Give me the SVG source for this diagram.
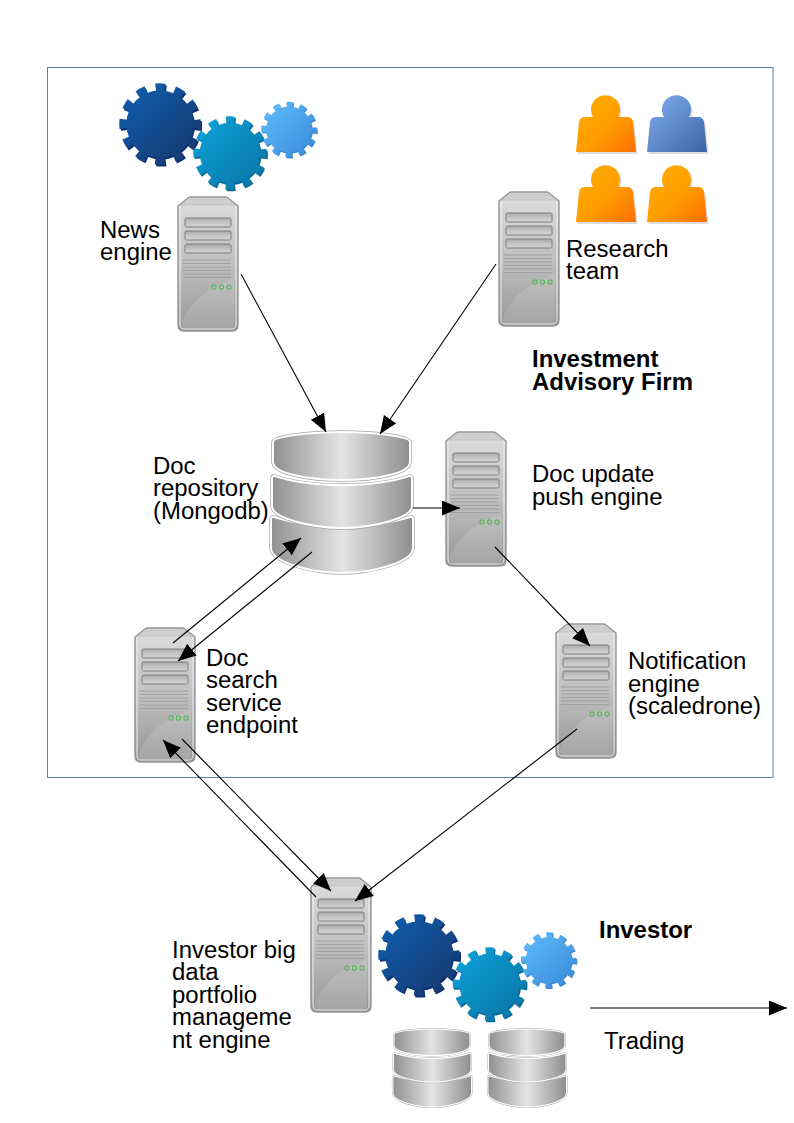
<svg xmlns="http://www.w3.org/2000/svg" width="794" height="1123" viewBox="0 0 794 1123">
<style>
text{font-family:"Liberation Sans",Arial,sans-serif;font-size:23.95px;fill:#000}
.b{font-weight:bold}
.c{fill:none;stroke:#000;stroke-width:1.1}
.a{marker-end:url(#arr)}
.bar{fill:url(#barG);stroke:#7c7c7c;stroke-width:1}
.vent{stroke:#a0a0a0;stroke-width:1}
.led{fill:none;stroke:#5cb85c;stroke-width:1.2}
.diskO{fill:none;stroke:#a4a4a4;stroke-width:3.4}
.disk{fill:url(#diskG);stroke:#fff;stroke-width:2}
</style>
<defs>
<marker id="arr" markerUnits="userSpaceOnUse" markerWidth="20" markerHeight="16" refX="18" refY="7.5" orient="auto"><path d="M0 0L18 7.5L0 15z" fill="#000"/></marker>
<linearGradient id="srvG" x1="0" y1="0" x2="0" y2="1"><stop offset="0" stop-color="#dedede"/><stop offset=".5" stop-color="#c0c0c0"/><stop offset="1" stop-color="#969696"/></linearGradient>
<linearGradient id="barG" x1="0" y1="0" x2="0" y2="1"><stop offset="0" stop-color="#a9a9a9"/><stop offset=".5" stop-color="#c4c4c4"/><stop offset="1" stop-color="#d4d4d4"/></linearGradient>
<linearGradient id="diskG" x1="0" y1="0" x2="1" y2="0"><stop offset="0" stop-color="#909090"/><stop offset=".5" stop-color="#e4e4e4"/><stop offset="1" stop-color="#8e8e8e"/></linearGradient>
<linearGradient id="g1" gradientUnits="userSpaceOnUse" x1="-70" y1="-70" x2="70" y2="70"><stop offset="0" stop-color="#0f5cad"/><stop offset="1" stop-color="#163a70"/></linearGradient>
<linearGradient id="g2" gradientUnits="userSpaceOnUse" x1="-70" y1="-70" x2="70" y2="70"><stop offset="0" stop-color="#0aa0d6"/><stop offset="1" stop-color="#0a76a8"/></linearGradient>
<linearGradient id="g3" gradientUnits="userSpaceOnUse" x1="-70" y1="-70" x2="70" y2="70"><stop offset="0" stop-color="#5bb8f8"/><stop offset="1" stop-color="#3c8fdc"/></linearGradient>
<linearGradient id="oG" x1="0" y1="0" x2="1" y2="1"><stop offset="0" stop-color="#ffb000"/><stop offset=".55" stop-color="#ff9c00"/><stop offset="1" stop-color="#ff6f00"/></linearGradient>
<linearGradient id="bG" x1="0" y1="0" x2="1" y2="1"><stop offset="0" stop-color="#82b0f0"/><stop offset="1" stop-color="#3c64a6"/></linearGradient>
<g id="gearShape"><circle r="74" stroke="none"/><circle r="80" fill="none" stroke-width="19" stroke-dasharray="20.500 21.390" stroke-dashoffset="10.250"/></g>
<g id="server">
<path d="M0 9L10 1Q11 0 13 0H47Q49 0 50 1L60 9V128Q60 134 54 134H6Q0 134 0 128z" fill="url(#srvG)" stroke="#959595" stroke-width="1.400"/>
<path d="M2 9V127Q2 132 6.500 132H53.500Q58 132 58 127V9" fill="none" stroke="#eee" stroke-width="1"/>
<path d="M3 8L12 2H48L57 8z" fill="#cfcfcf" stroke="#bdbdbd" stroke-width=".6"/>
<path d="M4 125C12 105 30 90 56 82V128Q56 131 52 131H7Q4 131 4 128z" fill="#fff" opacity=".13"/>
<rect class="bar" x="7" y="21" width="46" height="9" rx="1.500"/><rect class="bar" x="7" y="34" width="46" height="9" rx="1.500"/><rect class="bar" x="7" y="47" width="46" height="9" rx="1.500"/>
<path class="vent" d="M5 63H53M5 66.500H53M5 70H53M5 73.500H53M5 77H53M5 80.500H53"/>
<circle class="led" cx="36" cy="90" r="2.100"/><circle class="led" cx="43.500" cy="90" r="2.100"/><circle class="led" cx="51" cy="90" r="2.100"/>
</g>
<path id="d3" d="M-2 88Q-2 84 1 85C20 91 45 95 69 95C93 95 118 91 137 85Q140 84 140 88V116C140 130 100 141 69 141C38 141 -2 130 -2 116z"/>
<path id="d2" d="M-1 47Q-1 43 2 44C20 50 45 53 69 53C93 53 118 50 136 44Q139 43 139 47V74C139 86 100 96 69 96C38 96 -1 86 -1 74z"/>
<path id="d1" d="M0 10C0 4 40 0 69 0C98 0 137 4 137 10V30C137 42 100 48 69 48C38 48 0 42 0 30z"/>
<g id="db">
<use href="#d3" class="diskO"/><use href="#d3" class="disk"/>
<use href="#d2" class="diskO"/><use href="#d2" class="disk"/>
<use href="#d1" class="diskO"/><use href="#d1" class="disk"/>
</g>
<path id="person" d="M0 58L3 28Q4 23 9 23H17A14.500 14.500 0 1 1 42 23H51Q56 23 57 28L60 58z"/>
</defs>
<rect width="794" height="1123" fill="#fff"/>
<rect x="47.500" y="67.500" width="725.500" height="710" fill="none" stroke="#5a82b4" stroke-width="1"/>

<g id="gears-top">
<g transform="translate(160 124) scale(.455)"><use href="#gearShape" fill="#0d2f73" stroke="#0d2f73" transform="translate(3 4)"/><use href="#gearShape" fill="url(#g1)" stroke="url(#g1)"/></g>
<g transform="translate(230 153) scale(.41)"><use href="#gearShape" fill="#0a6a96" stroke="#0a6a96" transform="translate(3 4)"/><use href="#gearShape" fill="url(#g2)" stroke="url(#g2)"/></g>
<g transform="translate(289 129.500) scale(.31)"><use href="#gearShape" fill="#3a86cc" stroke="#3a86cc" transform="translate(3 4)"/><use href="#gearShape" fill="url(#g3)" stroke="url(#g3)"/></g>
</g>
<g id="team">
<g transform="translate(576 94)"><use href="#person" fill="#dcdcdc" transform="translate(1.500 2)"/><use href="#person" fill="url(#oG)"/></g>
<g transform="translate(647 94)"><use href="#person" fill="#dcdcdc" transform="translate(1.500 2)"/><use href="#person" fill="url(#bG)"/></g>
<g transform="translate(576 164)"><use href="#person" fill="#dcdcdc" transform="translate(1.500 2)"/><use href="#person" fill="url(#oG)"/></g>
<g transform="translate(647 164)"><use href="#person" fill="#dcdcdc" transform="translate(1.500 2)"/><use href="#person" fill="url(#oG)"/></g>
</g>
<g id="news-engine"><use href="#server" x="178" y="197"/><text x="100" y="238">News</text><text x="100" y="260">engine</text></g>
<g id="research-team"><use href="#server" x="499" y="192"/><text x="566" y="257">Research</text><text x="566" y="279">team</text></g>
<g id="firm-label"><text class="b" x="532" y="367">Investment</text><text class="b" x="532" y="390">Advisory Firm</text></g>
<g id="doc-repository"><use href="#db" transform="translate(273 432)"/><text x="153" y="474">Doc</text><text x="153" y="496">repository</text><text x="153" y="519">(Mongodb)</text></g>
<g id="doc-update"><use href="#server" x="446" y="432"/><text x="532" y="482">Doc update</text><text x="532" y="505">push engine</text></g>
<g id="doc-search"><use href="#server" x="135" y="628"/><text x="206" y="666">Doc</text><text x="206" y="688">search</text><text x="206" y="711">service</text><text x="206" y="733">endpoint</text></g>
<g id="notification"><use href="#server" x="556" y="624"/><text x="628" y="669">Notification</text><text x="628" y="692">engine</text><text x="628" y="714">(scaledrone)</text></g>
<g id="investor-engine"><use href="#server" x="311" y="878"/><text x="172" y="958">Investor big</text><text x="172" y="980">data</text><text x="172" y="1003">portfolio</text><text x="172" y="1025">manageme</text><text x="172" y="1048">nt engine</text></g>
<g id="gears-investor">
<g transform="translate(419 955) scale(.455)"><use href="#gearShape" fill="#0d2f73" stroke="#0d2f73" transform="translate(3 4)"/><use href="#gearShape" fill="url(#g1)" stroke="url(#g1)"/></g>
<g transform="translate(489.500 984) scale(.41)"><use href="#gearShape" fill="#0a6a96" stroke="#0a6a96" transform="translate(3 4)"/><use href="#gearShape" fill="url(#g2)" stroke="url(#g2)"/></g>
<g transform="translate(548.700 960) scale(.31)"><use href="#gearShape" fill="#3a86cc" stroke="#3a86cc" transform="translate(3 4)"/><use href="#gearShape" fill="url(#g3)" stroke="url(#g3)"/></g>
</g>
<g id="investor-dbs">
<use href="#db" transform="translate(394 1029) scale(.554)"/>
<use href="#db" transform="translate(489 1029) scale(.554)"/>
</g>
<g id="investor-label"><text class="b" x="599" y="938">Investor</text></g>
<g id="trading-label"><text x="604" y="1049">Trading</text></g>
<g id="connectors">
<path class="c a" d="M241 274L326 432"/>
<path class="c a" d="M496 264L380 434"/>
<path class="c a" d="M413 508L460 508"/>
<path class="c a" d="M495 547L590 646"/>
<path class="c a" d="M577 729L355 901"/>
<path class="c a" d="M173 643L301 538"/>
<path class="c a" d="M312 552L178 661"/>
<path class="c a" d="M182 739L331 891"/>
<path class="c a" d="M316 897L163 740"/>
<path class="c a" d="M590 1008L787 1008"/>
</g>
</svg>
